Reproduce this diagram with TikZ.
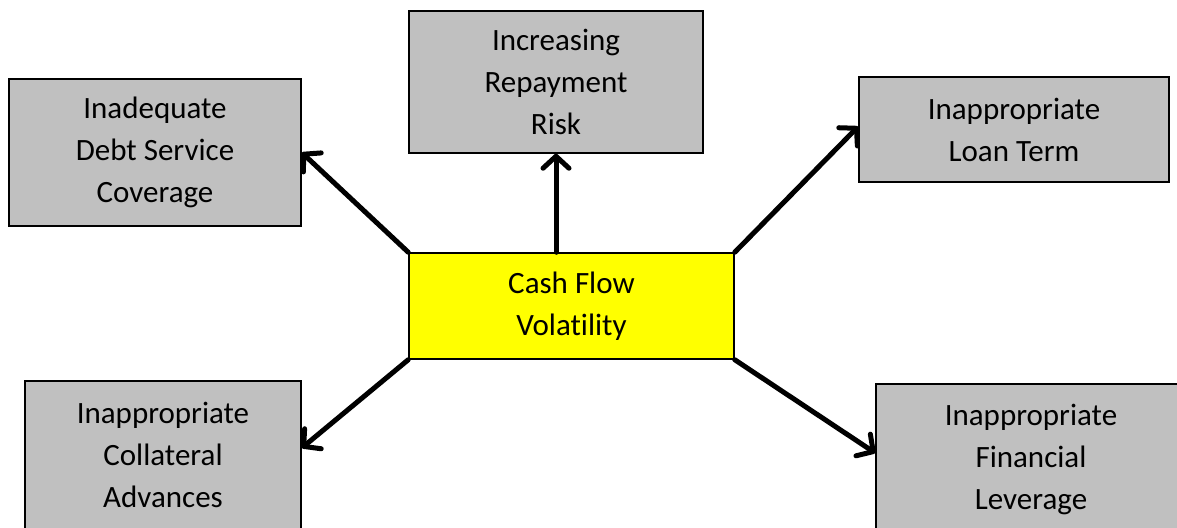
\documentclass[tikz,border=0pt]{standalone}
\usepackage{fontspec}
\setmainfont{Carlito}[Ligatures=NoCommon]
\usetikzlibrary{arrows.meta}
\definecolor{boxgray}{HTML}{C0C0C0}
\definecolor{hotyellow}{HTML}{FFFF00}
\tikzset{
  cause/.style={draw=black, line width=1.5pt, fill=boxgray, inner sep=0pt,
    align=center, font=\fontsize{31}{42}\selectfont},
  core/.style={cause, fill=hotyellow},
  effect/.style={line width=5pt, line cap=round, line join=round,
    -{Straight Barb[length=12pt,width=26pt,line cap=round,line join=round]}}
}
\begin{document}
\begin{tikzpicture}[x=1pt,y=-1pt]
  \useasboundingbox (0,0) rectangle (1177,527);
  \clip (0,0) rectangle (1177,527);
  % surrounding consequences
  \node[cause, minimum width=292pt, minimum height=147pt] (tl) at (155,152.5)
    {Inadequate\\Debt Service\\Coverage};
  \node[cause, minimum width=294pt, minimum height=142pt] (tc) at (556,82)
    {Increasing\\Repayment\\Risk};
  \node[cause, minimum width=310pt, minimum height=105pt] (tr) at (1014,129.5)
    {Inappropriate\\Loan Term};
  \node[cause, minimum width=276pt, minimum height=148pt] (bl) at (163,455)
    {Inappropriate\\Collateral\\Advances};
  \node[cause, minimum width=310pt, minimum height=150pt] (br) at (1031,459)
    {Inappropriate\\Financial\\Leverage};
  % central driver
  \node[core, minimum width=325pt, minimum height=106pt] (c) at (571.5,306)
    {Cash Flow\\Volatility};
  % arrows from the driver to each consequence
  \draw[effect] (c.north west) -- (tl.east);
  \draw[effect] (c.north -| tc.south) -- (tc.south);
  \draw[effect] (c.north east) -- ([yshift=3pt]tr.west);
  \draw[effect] (c.south west) -- ([yshift=7pt]bl.east);
  \draw[effect] (c.south east) -- ([yshift=6pt]br.west);
\end{tikzpicture}
\end{document}
